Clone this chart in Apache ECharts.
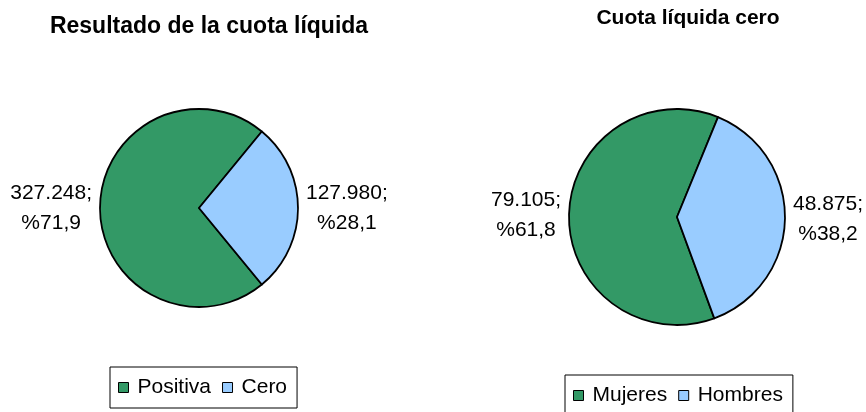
<!DOCTYPE html>
<html>
<head>
<meta charset="utf-8">
<script src="https://cdn.jsdelivr.net/npm/echarts@6/dist/echarts.min.js"></script>
<style>
  html, body { margin: 0; padding: 0; background: #fff; }
  #chart { width: 866px; height: 412px; }
</style>
</head>
<body>
<div id="chart"></div>
<script>
const leftTitle = 'Resultado de la cuota líquida'
const rightTitle = 'Cuota líquida cero'
const resultCategories = ['Positiva', 'Cero']
const resultValues = [327248, 127980]
const zeroCategories = ['Mujeres', 'Hombres']
const zeroValues = [79105, 48875]
const sliceColors = ['#339966', '#99ccff']

const font = '"Liberation Sans", Arial, sans-serif'

// 327248 -> "327.248", 71.89 -> "71,9"
const fmtThousands = v => String(v).replace(/\B(?=(\d{3})+(?!\d))/g, '.')
const fmtLabel = p => `{c|${fmtThousands(p.value)};}\n{c|%${p.percent.toFixed(1).replace('.', ',')}}`

const toData = (names, values) => names.map((name, i) => ({
  name,
  value: values[i],
  itemStyle: { color: sliceColors[i] }
}))

const pieBase = {
  type: 'pie',
  clockwise: true,
  avoidLabelOverlap: false,
  itemStyle: { borderColor: '#000', borderWidth: 1.8 },
  label: {
    position: 'outside',
    formatter: fmtLabel,
    rich: {
      c: { align: 'center', fontSize: 21, lineHeight: 30, color: '#000', fontFamily: font }
    }
  },
  labelLine: { show: false, length: 3, length2: 0 },
  emphasis: { disabled: true }
}

const legendBase = {
  orient: 'horizontal',
  icon: 'rect',
  itemWidth: 10,
  itemHeight: 10,
  itemGap: 11,
  borderColor: '#000',
  borderWidth: 1,
  padding: [10, 10, 10, 8],
  textStyle: { fontSize: 21, color: '#000', fontFamily: font, padding: [0, 0, 0, 4] },
  itemStyle: { borderColor: '#000', borderWidth: 1 }
}

const chart = echarts.init(document.getElementById('chart'), null, { renderer: 'canvas' })
chart.setOption({
  backgroundColor: '#fff',
  animation: false,
  title: [
    {
      text: leftTitle,
      left: 204,
      top: 10,
      textAlign: 'center',
      textStyle: { fontSize: 23, fontWeight: 'bold', color: '#000', fontFamily: font }
    },
    {
      text: rightTitle,
      left: 683,
      top: 3,
      textAlign: 'center',
      textStyle: { fontSize: 21, fontWeight: 'bold', color: '#000', fontFamily: font }
    }
  ],
  legend: [
    { ...legendBase, data: resultCategories, left: 110, top: 367 },
    { ...legendBase, data: zeroCategories, left: 565, top: 375 }
  ],
  series: [
    {
      ...pieBase,
      name: leftTitle,
      center: [199, 208],
      radius: 99,
      startAngle: -50.6,
      data: toData(resultCategories, resultValues)
    },
    {
      ...pieBase,
      name: rightTitle,
      center: [677, 217],
      radius: 108,
      startAngle: -69.8,
      data: toData(zeroCategories, zeroValues)
    }
  ]
})
</script>
</body>
</html>
